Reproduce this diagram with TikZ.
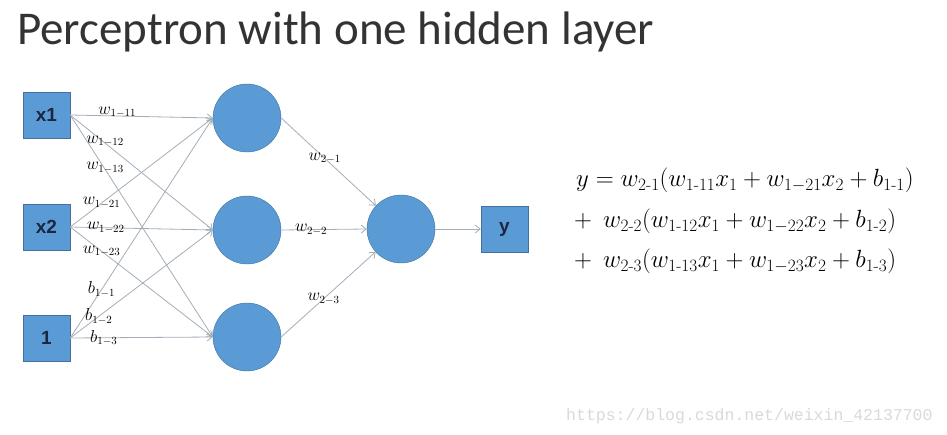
\documentclass[tikz,border=0pt]{standalone}
\usepackage{amsmath}
\usepackage{fontspec}
\newfontfamily\titlefont{Carlito}
\newfontfamily\boxfont{Liberation Sans}
\newfontfamily\markfont{Liberation Mono}
\usetikzlibrary{arrows.meta,positioning}

\definecolor{nodeblue}{HTML}{5B9BD5}
\definecolor{nodeedge}{HTML}{41719C}
\definecolor{linkgray}{HTML}{A3ADB8}
\definecolor{labelnavy}{HTML}{1C2640}

\begin{document}
\begin{tikzpicture}[x=1pt,y=-1pt,>={Straight Barb[length=5pt,width=8pt]},
  inbox/.style={draw=nodeedge,fill=nodeblue,minimum width=47pt,minimum height=46pt,
    inner sep=0pt,font=\boxfont\bfseries\fontsize{19}{19}\selectfont,text=labelnavy},
  neuron/.style={circle,draw=nodeedge,fill=nodeblue,minimum size=68pt,inner sep=0pt},
  link/.style={->,draw=linkgray,line width=0.8pt},
  wlabel/.style={inner sep=0pt,font=\fontsize{16}{16}\selectfont},
  formula/.style={anchor=base west,inner sep=0pt,font=\fontsize{24.6}{24.6}\selectfont}]
\useasboundingbox (0,0) rectangle (947,435);

% title
\node[anchor=base west,inner sep=0pt,text=black!80,font=\titlefont\fontsize{47}{47}\selectfont] (title) at (17,45) {Perceptron with one hidden layer};

% inputs
\node[inbox] (x1) at (46.5,115) {x1};
\node[inbox,below of=x1,node distance=112pt] (x2) {x2};
\node[inbox,below of=x2,node distance=111pt] (one) {1};

% hidden layer
\node[neuron] (h1) at (247,118) {};
\node[neuron,below of=h1,node distance=112pt] (h2) {};
\node[neuron,below of=h2,node distance=107pt] (h3) {};

% output
\node[neuron] (out) at (401,229) {};
\node[inbox,right of=out,node distance=103.5pt] (y) {y};

% input -> hidden
\draw[link] (x1.east) -- (h1.west) node[wlabel,pos=0.33,above=-2pt] {$w_{1-11}$};
\draw[link] (x1.east) -- (h2.west) node[wlabel,pos=0.245,above=-4pt] {$w_{1-12}$};
\draw[link] (x1.east) -- (h3.west) node[wlabel,pos=0.245,above=-4pt] {$w_{1-13}$};
\draw[link] (x2.east) -- (h1.west) node[wlabel,pos=0.22] {$w_{1-21}$};
\draw[link] (x2.east) -- (h2.west) node[wlabel,pos=0.25] {$w_{1-22}$};
\draw[link] (x2.east) -- (h3.west) node[wlabel,pos=0.22] {$w_{1-23}$};
\draw[link] (one.east) -- (h1.west) node[wlabel,pos=0.22] {$b_{1-1}$};
\draw[link] (one.east) -- (h2.west) node[wlabel,pos=0.2] {$b_{1-2}$};
\draw[link] (one.east) -- (h3.west) node[wlabel,pos=0.235] {$b_{1-3}$};

% hidden -> output
\draw[link] (h1.east) -- (out) node[wlabel,pos=0.46] {$w_{2-1}$};
\draw[link] (h2.east) -- (out.west) node[wlabel,pos=0.35] {$w_{2-2}$};
\draw[link] (h3.east) -- (out) node[wlabel,pos=0.45] {$w_{2-3}$};
\draw[link] (out.east) -- (y.west);

% formula
\node[formula] (eq1) at (576,187)
  {$y = w_{2\text{-}1}(w_{1\text{-}11}x_1 + w_{1-21}x_2 + b_{1\text{-}1})$};
\node[formula] (eq2) at (574,228)
  {$+\;\,w_{2\text{-}2}(w_{1\text{-}12}x_1 + w_{1-22}x_2 + b_{1\text{-}2})$};
\node[formula] (eq3) at (574,268)
  {$+\;\,w_{2\text{-}3}(w_{1\text{-}13}x_1 + w_{1-23}x_2 + b_{1\text{-}3})$};

% watermark
\node[anchor=base west,inner sep=0pt,text=black!15,font=\markfont\fontsize{16.5}{16.5}\selectfont] (mark) at (566,420) {https://blog.csdn.net/weixin\_42137700};
\end{tikzpicture}
\end{document}
